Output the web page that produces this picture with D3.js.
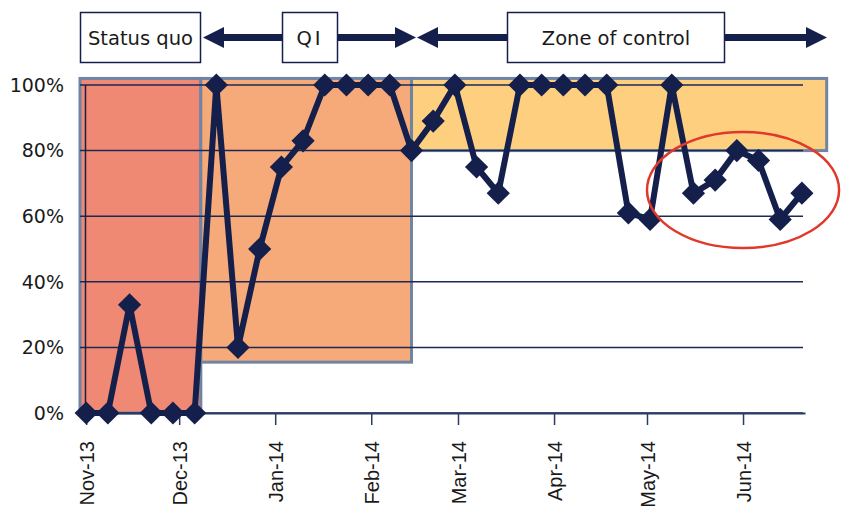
<!DOCTYPE html>
<html>
<head>
<meta charset="utf-8">
<script src="https://cdn.jsdelivr.net/npm/d3@7"></script>
<style>
  html, body { margin: 0; padding: 0; background: #ffffff; }
  svg { display: block; }
</style>
</head>
<body>
<svg id="chart" width="843" height="510"></svg>
<script>
// ---- data ----
const dates = ["2013-11-01","2013-11-08","2013-11-15","2013-11-22","2013-11-29","2013-12-06",
  "2013-12-13","2013-12-20","2013-12-27","2014-01-03","2014-01-10","2014-01-17","2014-01-24",
  "2014-01-31","2014-02-07","2014-02-14","2014-02-21","2014-02-28","2014-03-07","2014-03-14",
  "2014-03-21","2014-03-28","2014-04-04","2014-04-11","2014-04-18","2014-04-25","2014-05-02",
  "2014-05-09","2014-05-16","2014-05-23","2014-05-30","2014-06-06","2014-06-13","2014-06-20"];
const values = [0, 0, 0.33, 0, 0, 0,
  1, 0.20, 0.50, 0.75, 0.83, 1, 1,
  1, 1, 0.80, 0.89, 1, 0.75, 0.67,
  1, 1, 1, 1, 1, 0.61, 0.59,
  1, 0.67, 0.71, 0.80, 0.77, 0.59, 0.67];

const monthTicks = ["2013-11-01","2013-12-01","2014-01-01","2014-02-01","2014-03-01","2014-04-01","2014-05-01","2014-06-01"];
const monthLabels = ["Nov-13","Dec-13","Jan-14","Feb-14","Mar-14","Apr-14","May-14","Jun-14"];

const yTicks = [0, 0.2, 0.4, 0.6, 0.8, 1.0];
const yTickLabels = ["0%","20%","40%","60%","80%","100%"];

// phase bands (start, end, low, high)
const zoneNames = ["Status quo", "QI", "Zone of control"];
const zoneStart = ["2013-10-30", "2013-12-08", "2014-02-14"];
const zoneEnd   = ["2013-12-08", "2014-02-14", "2014-06-28"];
const zoneLow   = [0, 0.155, 0.80];
const zoneHigh  = [1.02, 1.02, 1.02];

// highlight ellipse (centre date / value, half-widths in days / value)
const hlCenterDate = "2014-06-01";
const hlCenterValue = 0.68;
const hlHalfDays = 31;
const hlHalfValue = 0.177;

// ---- setup ----
const parse = d3.utcParse("%Y-%m-%d");
const svg = d3.select("#chart");
const navy = "#14204b";
const zoneColors = ["#EF8973", "#F7AA79", "#FDCF7F"];

const x = d3.scaleUtc()
  .domain([parse("2013-10-30"), parse("2014-06-21")])
  .range([80, 805]);
const y = d3.scaleLinear().domain([0, 1]).range([413, 85]);

// zone bands
const zones = zoneNames.map((n, i) => ({
  name: n, s: parse(zoneStart[i]), e: parse(zoneEnd[i]), lo: zoneLow[i], hi: zoneHigh[i]
}));
svg.append("g").selectAll("rect").data(zones).join("rect")
  .attr("x", d => x(d.s))
  .attr("y", d => y(d.hi))
  .attr("width", d => x(d.e) - x(d.s))
  .attr("height", d => y(d.lo) - y(d.hi))
  .attr("fill", (d, i) => zoneColors[i])
  .attr("stroke", "#7084a3")
  .attr("stroke-width", 3);

// gridlines
svg.append("g").selectAll("line").data(yTicks).join("line")
  .attr("x1", 80).attr("x2", 803)
  .attr("y1", d => y(d)).attr("y2", d => y(d))
  .attr("stroke", "#1c2955").attr("stroke-width", 1.5);

// y axis line
svg.append("line")
  .attr("x1", 85.5).attr("x2", 85.5)
  .attr("y1", y(1)).attr("y2", y(0))
  .attr("stroke", navy).attr("stroke-width", 1.5);

// y labels
svg.append("g").selectAll("text").data(yTicks).join("text")
  .attr("x", 64).attr("y", d => y(d))
  .attr("dy", "0.36em")
  .attr("text-anchor", "end")
  .attr("font-family", "DejaVu Sans, sans-serif")
  .attr("font-size", 19)
  .attr("fill", "#1a1a1a")
  .text((d, i) => yTickLabels[i]);

// x axis
const tickDates = monthTicks.map(parse);
const xAxis = d3.axisBottom(x)
  .tickValues(tickDates)
  .tickSize(12)
  .tickSizeOuter(0)
  .tickFormat((d, i) => monthLabels[i]);
const gx = svg.append("g").attr("transform", `translate(0,${y(0)})`).call(xAxis);
gx.select(".domain").attr("stroke", "#2b3a66").attr("stroke-width", 2);
gx.selectAll(".tick line").attr("stroke", "#2b3a66").attr("stroke-width", 1.5);
gx.selectAll(".tick text")
  .attr("font-family", "Liberation Sans, Arial, sans-serif")
  .attr("font-size", 20)
  .attr("fill", "#1a1a1a")
  .attr("text-anchor", "end")
  .attr("y", 0).attr("dy", "0.36em")
  .attr("transform", "translate(0,28) rotate(-90)");

// data line
const pts = dates.map((d, i) => ({ date: parse(d), v: values[i] }));
const line = d3.line().x(d => x(d.date)).y(d => y(d.v));
svg.append("path").datum(pts)
  .attr("d", line)
  .attr("fill", "none")
  .attr("stroke", navy)
  .attr("stroke-width", 6)
  .attr("stroke-linejoin", "miter");

const sym = d3.symbol().type(d3.symbolSquare).size(270);
svg.append("g").selectAll("path").data(pts).join("path")
  .attr("d", sym)
  .attr("transform", d => `translate(${x(d.date)},${y(d.v)}) rotate(45)`)
  .attr("fill", navy);

// highlight ellipse
const hc = parse(hlCenterDate);
const cx = x(hc), cy = y(hlCenterValue);
const rx = x(d3.utcDay.offset(hc, hlHalfDays)) - cx;
const ry = y(hlCenterValue - hlHalfValue) - cy;
svg.append("ellipse")
  .attr("cx", cx).attr("cy", cy).attr("rx", rx).attr("ry", ry)
  .attr("fill", "none").attr("stroke", "#e0392b").attr("stroke-width", 2.5);

// header: phase boxes and arrows
const hdr = svg.append("g");
const boxes = [
  { label: "Status quo", x0: 80, x1: 200, ls: 0 },
  { label: "QI", x0: 282, x1: 337, ls: 3 },
  { label: "Zone of control", x0: 507, x1: 724, ls: 0 }
];
const by0 = 12.5, by1 = 62.5, ay = 37.5;
hdr.selectAll("rect").data(boxes).join("rect")
  .attr("x", d => d.x0 + 0.5).attr("y", by0)
  .attr("width", d => d.x1 - d.x0).attr("height", by1 - by0)
  .attr("fill", "#fff").attr("stroke", navy).attr("stroke-width", 1.5);
hdr.selectAll("text").data(boxes).join("text")
  .attr("x", d => (d.x0 + d.x1) / 2 + 0.5)
  .attr("y", ay).attr("dy", "0.36em")
  .attr("text-anchor", "middle")
  .attr("font-family", "DejaVu Sans, sans-serif")
  .attr("font-size", 19.5)
  .attr("letter-spacing", d => d.ls)
  .attr("fill", "#1a1a1a")
  .text(d => d.label);

// arrows: [from, tip]
const arrows = [[282, 203], [337, 416], [507, 417], [724, 827]];
arrows.forEach(([from, tip]) => {
  const dir = tip > from ? 1 : -1;
  const base = tip - dir * 21;
  hdr.append("line")
    .attr("x1", from).attr("x2", base).attr("y1", ay).attr("y2", ay)
    .attr("stroke", navy).attr("stroke-width", 7);
  hdr.append("path")
    .attr("d", `M${tip},${ay} L${base},${ay - 10.5} L${base},${ay + 10.5} Z`)
    .attr("fill", navy);
});
</script>
</body>
</html>
